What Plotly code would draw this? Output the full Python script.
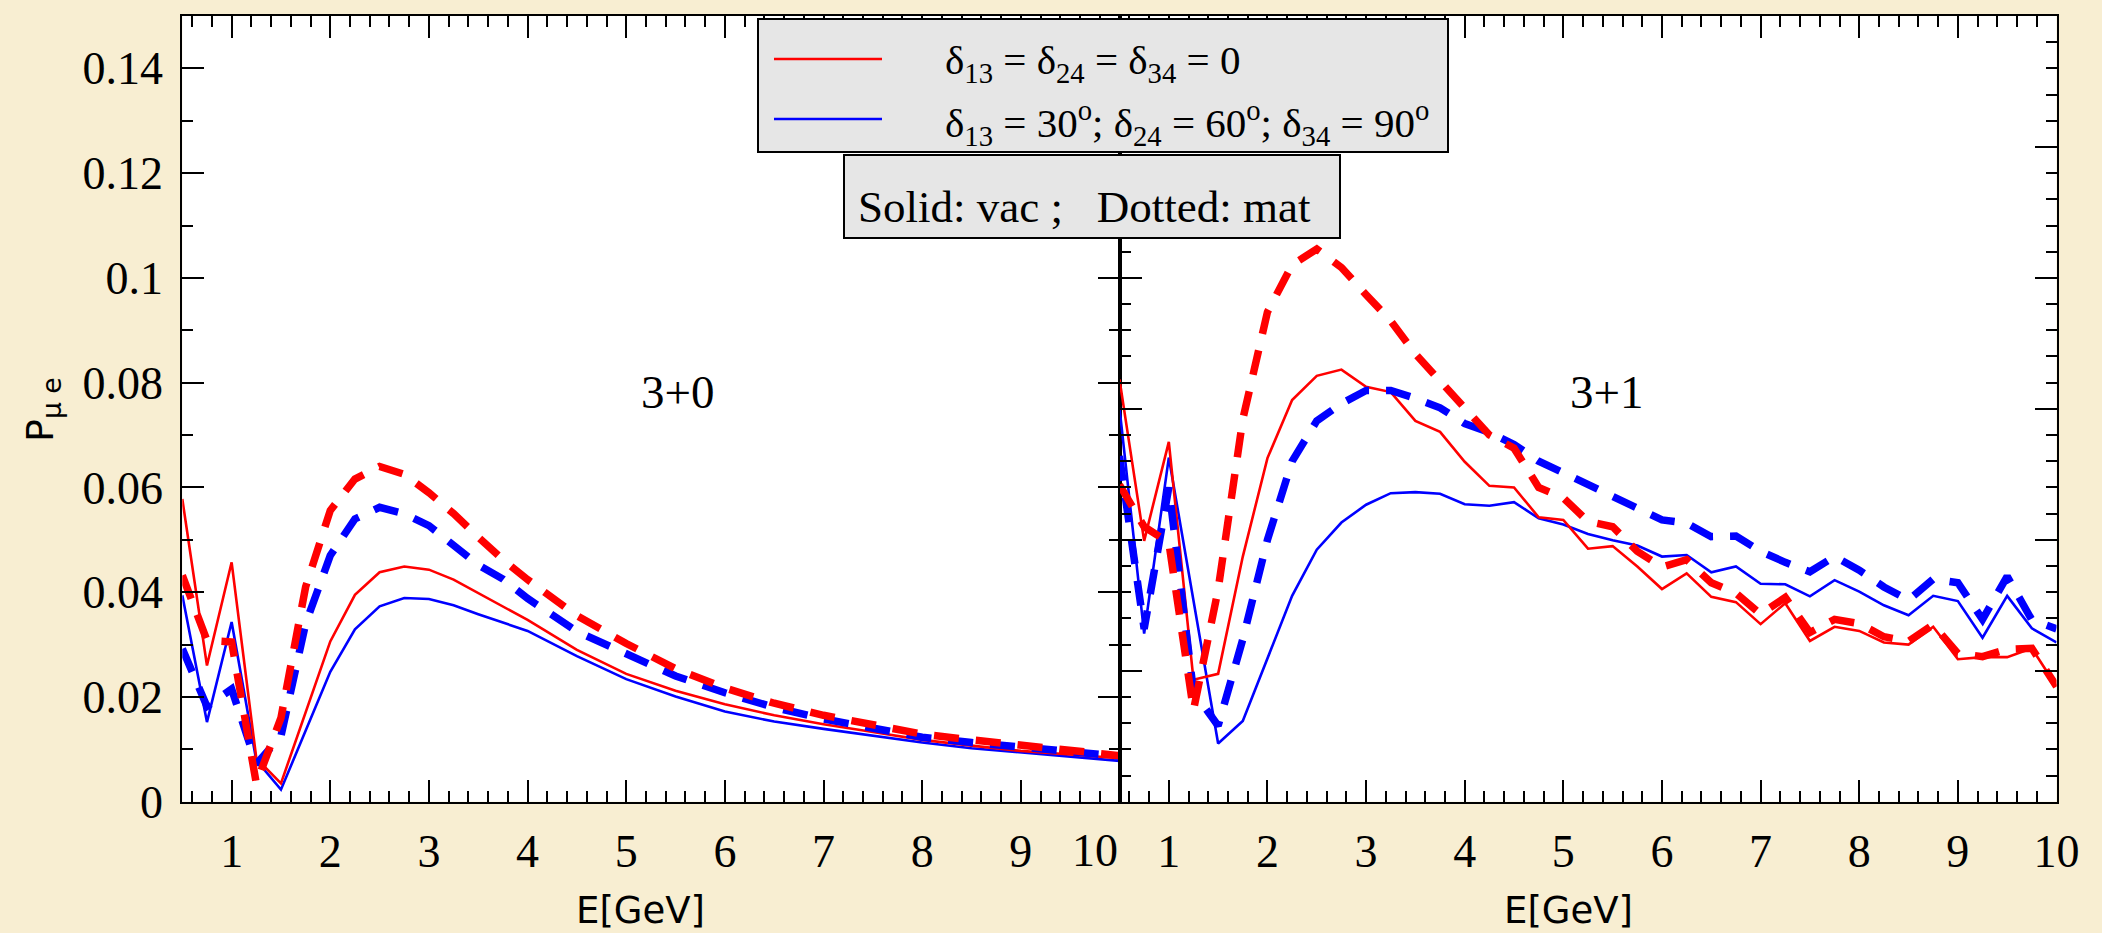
import plotly.graph_objects as go

# ---------------- data ----------------
# 3+0 panel (left)
E_left_vac = [0.5, 0.75, 1.0, 1.25, 1.5, 1.75, 2.0, 2.25, 2.5, 2.75, 3.0, 3.25, 3.5,
              4.0, 4.5, 5.0, 5.5, 6.0, 6.5, 7.0, 7.5, 8.0, 8.5, 9.0, 9.5, 10.0]
P30_red_vac = [0.0578, 0.0260, 0.0457, 0.0083, 0.0035, 0.0171, 0.0306, 0.0395, 0.0438, 0.0449,
               0.0443, 0.0424, 0.0398, 0.0347, 0.0290, 0.0244, 0.0212, 0.0186, 0.0165, 0.0148,
               0.0133, 0.0118, 0.0107, 0.0097, 0.0090, 0.0083]
P30_blue_vac = [0.0394, 0.0152, 0.0343, 0.0079, 0.0023, 0.0136, 0.0248, 0.0329, 0.0373, 0.0389,
                0.0387, 0.0375, 0.0358, 0.0326, 0.0278, 0.0234, 0.0201, 0.0172, 0.0153, 0.0139,
                0.0126, 0.0113, 0.0102, 0.0094, 0.0086, 0.0078]
E_left_mat = [0.5, 0.75, 1.0, 1.25, 1.5, 1.75, 2.0, 2.25, 2.5, 2.75, 3.0, 3.25, 3.5, 3.75,
              4.0, 4.5, 5.0, 5.5, 6.0, 6.5, 7.0, 7.5, 8.0, 8.5, 9.0, 9.5, 10.0]
P30_red_mat = [0.0432, 0.0308, 0.0305, 0.0035, 0.0160, 0.0410, 0.0556, 0.0616, 0.0640, 0.0625,
               0.0590, 0.0550, 0.0505, 0.0462, 0.0424, 0.0355, 0.0302, 0.0254, 0.0217, 0.0188,
               0.0165, 0.0146, 0.0129, 0.0118, 0.0109, 0.0098, 0.0088]
P30_blue_mat = [0.0292, 0.0182, 0.0215, 0.0072, 0.0125, 0.0340, 0.0470, 0.0540, 0.0562, 0.0550,
                0.0527, 0.0489, 0.0452, 0.0425, 0.0388, 0.0325, 0.0281, 0.0240, 0.0208, 0.0180,
                0.0158, 0.0140, 0.0123, 0.0113, 0.0104, 0.0095, 0.0087]

# 3+1 panel (right)
E_right = [0.5, 0.75, 1.0, 1.25, 1.5, 1.75, 2.0, 2.25, 2.5, 2.75, 3.0, 3.25, 3.5, 3.75,
           4.0, 4.25, 4.5, 4.75, 5.0, 5.25, 5.5, 5.75, 6.0, 6.25, 6.5, 6.75, 7.0, 7.25,
           7.5, 7.75, 8.0, 8.25, 8.5, 8.75, 9.0, 9.25, 9.5, 9.75, 10.0]
P31_red_vac = [0.0806, 0.0498, 0.0687, 0.0233, 0.0244, 0.0468, 0.0656, 0.0767, 0.0813, 0.0825,
               0.0792, 0.0782, 0.0727, 0.0706, 0.0649, 0.0603, 0.0600, 0.0543, 0.0538, 0.0483,
               0.0488, 0.0449, 0.0406, 0.0436, 0.0391, 0.0381, 0.0339, 0.0379, 0.0307, 0.0334,
               0.0326, 0.0304, 0.0300, 0.0334, 0.0272, 0.0276, 0.0276, 0.0293, 0.0220]
P31_blue_vac = [0.0752, 0.0321, 0.0657, 0.0380, 0.0111, 0.0154, 0.0275, 0.0393, 0.0481, 0.0533,
                0.0567, 0.0589, 0.0591, 0.0588, 0.0568, 0.0565, 0.0572, 0.0541, 0.0529, 0.0511,
                0.0499, 0.0489, 0.0468, 0.0471, 0.0438, 0.0449, 0.0416, 0.0415, 0.0392, 0.0423,
                0.0401, 0.0375, 0.0356, 0.0393, 0.0383, 0.0313, 0.0393, 0.0331, 0.0304]
P31_red_mat = [0.0605, 0.0525, 0.0495, 0.0175, 0.0405, 0.0730, 0.0935, 0.1025, 0.1055, 0.1020,
               0.0968, 0.0918, 0.0855, 0.0805, 0.0755, 0.0700, 0.0675, 0.0600, 0.0580, 0.0535,
               0.0525, 0.0478, 0.0448, 0.0462, 0.0418, 0.0398, 0.0358, 0.0390, 0.0323, 0.0348,
               0.0340, 0.0315, 0.0306, 0.0338, 0.0283, 0.0277, 0.0291, 0.0293, 0.0220]
P31_blue_mat = [0.0660, 0.0330, 0.0600, 0.0210, 0.0145, 0.0310, 0.0500, 0.0650, 0.0727, 0.0760,
                0.0785, 0.0785, 0.0770, 0.0752, 0.0722, 0.0705, 0.0682, 0.0650, 0.0628, 0.0605,
                0.0582, 0.0562, 0.0538, 0.0532, 0.0506, 0.0507, 0.0478, 0.0457, 0.0439, 0.0468,
                0.0442, 0.0410, 0.0385, 0.0425, 0.0418, 0.0348, 0.0430, 0.0347, 0.0330]

y_ticks_left = [0, 0.02, 0.04, 0.06, 0.08, 0.10, 0.12, 0.14]
y_ticklabels_left = ["0", "0.02", "0.04", "0.06", "0.08", "0.1", "0.12", "0.14"]
x_ticks = [1, 2, 3, 4, 5, 6, 7, 8, 9, 10]

legend_labels = ["δ<sub>13</sub> = δ<sub>24</sub> = δ<sub>34</sub> = 0",
                 "δ<sub>13</sub> = 30<sup>o</sup>; δ<sub>24</sub> = 60<sup>o</sup>; δ<sub>34</sub> = 90<sup>o</sup>"]
note_text = "Solid: vac ;\u00a0\u00a0\u00a0Dotted: mat"
panel_labels = ["3+0", "3+1"]

# ---------------- layout helpers ----------------
W, H = 2102, 933
def px(x):
    return x / W
def py(y):
    return 1 - y / H

RED, BLUE = "#ff0000", "#0000ff"
SERIF = "Liberation Serif"
SANS = "DejaVu Sans"
solid_w, dash_w = 2.6, 7.5
dash_style = "25px,17px"

fig = go.Figure()

def add(x, y, color, dashed, xa, ya):
    fig.add_trace(go.Scatter(
        x=x, y=y, mode="lines", xaxis=xa, yaxis=ya, showlegend=False,
        line=dict(color=color, width=dash_w if dashed else solid_w,
                  dash=dash_style if dashed else "solid"),
        hoverinfo="skip"))

add(E_left_vac, P30_blue_vac, BLUE, False, "x", "y")
add(E_left_vac, P30_red_vac, RED, False, "x", "y")
add(E_left_mat, P30_blue_mat, BLUE, True, "x", "y")
add(E_left_mat, P30_red_mat, RED, True, "x", "y")
add(E_right, P31_blue_vac, BLUE, False, "x2", "y2")
add(E_right, P31_red_vac, RED, False, "x2", "y2")
add(E_right, P31_blue_mat, BLUE, True, "x2", "y2")
add(E_right, P31_red_mat, RED, True, "x2", "y2")

x_left, x_mid, x_right = 182.3, 1119.5, 2056.5
y_top, y_bot = 16.0, 801.7

axis_common = dict(showline=True, linecolor="black", linewidth=2, mirror="ticks",
                   ticks="inside", ticklen=22, tickwidth=2, tickcolor="black",
                   showgrid=False, zeroline=False, automargin=False,
                   tickfont=dict(family=SERIF, size=46, color="black"))

xaxis_cfg = dict(axis_common, range=[0.5, 10], tickmode="array",
                 minor=dict(ticks="inside", ticklen=11, tickwidth=1.5, tickcolor="black",
                            tickmode="linear", tick0=0, dtick=0.2, showgrid=False),
                 ticklabelstandoff=8)

fig.update_layout(
    width=W, height=H, autosize=False,
    margin=dict(l=0, r=0, t=0, b=0, pad=0, autoexpand=False),
    paper_bgcolor="#f8eed2",
    plot_bgcolor="white",
    xaxis=dict(xaxis_cfg, domain=[px(x_left), px(x_mid)], anchor="y",
               tickvals=x_ticks, ticktext=[str(v) if v != 10 else "" for v in x_ticks]),
    xaxis2=dict(xaxis_cfg, domain=[px(x_mid), px(x_right)], anchor="y2",
                tickvals=x_ticks, ticktext=[str(v) for v in x_ticks]),
    yaxis=dict(axis_common, domain=[py(y_bot), py(y_top)], anchor="x", range=[0, 0.15],
               tickmode="array", tickvals=y_ticks_left, ticktext=y_ticklabels_left,
               ticklabelstandoff=8,
               minor=dict(ticks="inside", ticklen=11, tickwidth=1.5, tickcolor="black",
                          tickmode="linear", tick0=0, dtick=0.01, showgrid=False)),
    yaxis2=dict(axis_common, domain=[py(y_bot), py(y_top)], anchor="x2", range=[0, 0.15],
                tickmode="linear", tick0=0, dtick=0.025, showticklabels=False,
                minor=dict(ticks="inside", ticklen=11, tickwidth=1.5, tickcolor="black",
                           tickmode="linear", tick0=0, dtick=0.005, showgrid=False)),
)

shapes = []
annotations = []

# legend boxes
shapes.append(dict(type="rect", xref="paper", yref="paper", layer="above",
                   x0=px(758), x1=px(1448), y0=py(152), y1=py(19),
                   fillcolor="#e6e6e6", line=dict(color="black", width=2)))
shapes.append(dict(type="rect", xref="paper", yref="paper", layer="above",
                   x0=px(844), x1=px(1340), y0=py(238), y1=py(155),
                   fillcolor="#e6e6e6", line=dict(color="black", width=2)))
for color, yy in [(RED, 59), (BLUE, 119)]:
    shapes.append(dict(type="line", xref="paper", yref="paper", layer="above",
                       x0=px(774), x1=px(882), y0=py(yy), y1=py(yy),
                       line=dict(color=color, width=2.5)))
for label, yy in zip(legend_labels, [63, 123]):
    annotations.append(dict(text=label, xref="paper", yref="paper", x=px(943), y=py(yy),
                            xanchor="left", yanchor="middle", showarrow=False,
                            font=dict(family=SERIF, size=41, color="black")))
annotations.append(dict(text=note_text, xref="paper", yref="paper", x=px(856), y=py(207),
                        xanchor="left", yanchor="middle", showarrow=False,
                        font=dict(family=SERIF, size=45, color="black")))

# panel labels
for label, xx in zip(panel_labels, [678, 1607]):
    annotations.append(dict(text=label, xref="paper", yref="paper", x=px(xx), y=py(392),
                            xanchor="center", yanchor="middle", showarrow=False,
                            font=dict(family=SERIF, size=47, color="black")))

# "10" label of the left panel, right-aligned to the divider
annotations.append(dict(text="10", xref="x", yref="paper", x=10, y=py(850),
                        xanchor="right", yanchor="middle", showarrow=False,
                        font=dict(family=SERIF, size=46, color="black")))

# axis titles
for xx in [640, 1568]:
    annotations.append(dict(text="E[GeV]", xref="paper", yref="paper", x=px(xx), y=py(910),
                            xanchor="center", yanchor="middle", showarrow=False,
                            font=dict(family=SANS, size=37, color="black")))
annotations.append(dict(text="P<sub>μ e</sub>", xref="paper", yref="paper", x=px(42), y=py(410),
                        xanchor="center", yanchor="middle", showarrow=False, textangle=-90,
                        font=dict(family=SANS, size=38, color="black")))

fig.update_layout(shapes=shapes, annotations=annotations)

fig.write_html("out.html", config={"displayModeBar": False, "responsive": False})
